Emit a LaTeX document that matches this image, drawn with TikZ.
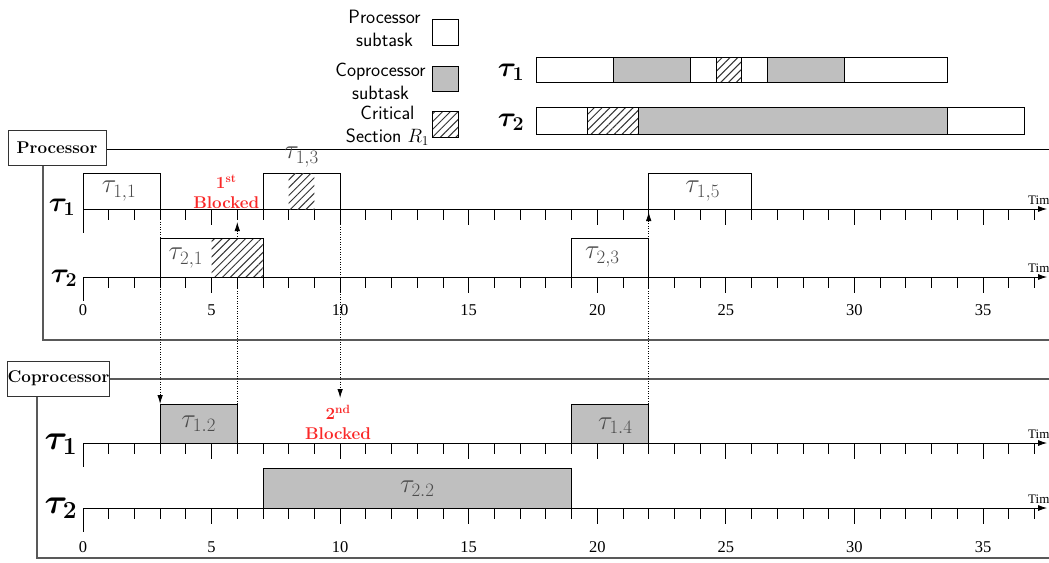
\RequirePackage{fix-cm}
\documentclass[tikz,border=0pt]{standalone}
\usepackage{amsmath,bm}
\usepackage{fontspec}
\newfontfamily\timesfont{Liberation Serif}
\usetikzlibrary{patterns.meta,arrows.meta}
\definecolor{blkred}{RGB}{250,40,40}
\tikzset{
  framebox/.style={draw=black!80, line width=0.8pt, fill=white, inner sep=0pt, font=\fontsize{17}{18}\selectfont\bfseries},
  frameline/.style={draw=black!65, line width=1.2pt},
  procbox/.style={draw=black, line width=0.8pt, fill=white},
  coprbox/.style={draw=black, line width=0.8pt, fill=black!25},
  critfill/.style={pattern={Lines[angle=45,distance=5.5pt,line width=1pt]}, pattern color=black!80},
  critbox/.style={draw=black, line width=0.8pt, critfill},
  tasklbl/.style={text=black!70, font=\fontsize{27}{30}\selectfont, inner sep=0pt},
  rowlbl/.style={font=\fontsize{28}{30}\selectfont, inner sep=0pt},
  rowlblbig/.style={font=\fontsize{35}{38}\selectfont, inner sep=0pt},
  blklbl/.style={text=blkred, font=\fontsize{17}{20}\selectfont\bfseries, align=center, inner sep=0pt},
  legtxt/.style={font=\fontsize{19.3}{23}\selectfont\sffamily, align=center, inner sep=0pt},
  numlbl/.style={font=\fontsize{16.5}{18}\timesfont, inner sep=0pt},
  timelbl/.style={font=\fontsize{13}{14}\timesfont, inner sep=0pt, anchor=base west},
  axisline/.style={line width=0.8pt, -{Latex[length=9pt,width=6pt]}},
  tickline/.style={line width=0.8pt},
  flow/.style={line width=0.8pt, dash pattern=on 1pt off 1.5pt, -{Latex[length=9pt,width=5.5pt]}},
}
\newcommand\timeaxis[1]{%
  \draw[axisline] (0,#1) -- (37.49,#1);
  \draw[tickline] (0,#1) -- ++(0,24);
  \foreach \t in {1,...,37} {\draw[tickline] (\t,#1) -- ++(0,11);}
  \foreach \t in {5,10,...,35} {\draw[tickline] (\t,#1) -- ++(0,16);}
  \node[timelbl] at (36.75,#1-5) {Time};
}
\begin{document}
\begin{tikzpicture}[x=1pt,y=-1pt]
\useasboundingbox (0,0) rectangle (1049,562);
\fill[white] (0,0) rectangle (1049,562);

% ---------- legend ----------
\node[legtxt] (lp) at (384.5,28) {Processor\\subtask};
\draw[procbox] (432,19) rectangle (458,45);
\node[legtxt] (lc) at (380.5,81) {Coprocessor\\subtask};
\draw[coprbox] (432,66) rectangle (458,91);
\node[legtxt] (lr) at (387.5,126) {Critical\\Section $R_1$};
\draw[critbox] (432,111) rectangle (458,137);

% ---------- overview bars ----------
\node[rowlbl] (b1) at (511,72) {$\bm{\tau_1}$};
\node[rowlbl] (b2) at (511,122) {$\bm{\tau_2}$};
\begin{scope}[x=25.714pt, xshift=536pt]
  \draw[procbox] (0,57) rectangle (3,82);
  \draw[coprbox] (3,57) rectangle (6,82);
  \draw[procbox] (6,57) rectangle (7,82);
  \draw[critbox] (7,57) rectangle (8,82);
  \draw[procbox] (8,57) rectangle (9,82);
  \draw[coprbox] (9,57) rectangle (12,82);
  \draw[procbox] (12,57) rectangle (16,82);
  \draw[procbox] (0,107) rectangle (2,134);
  \draw[critbox] (2,107) rectangle (4,134);
  \draw[coprbox] (4,107) rectangle (16,134);
  \draw[procbox] (16,107) rectangle (19,134);
\end{scope}

% ---------- frames ----------
\draw[draw=black, line width=0.9pt] (106,149) -- (1049,149);
\draw[frameline] (43,165) -- (43,340) -- (1049,340);
\node[framebox, minimum width=98pt, minimum height=35pt] (procf) at (57,147.5) {Processor};
\draw[frameline] (109,379) -- (1049,379);
\draw[frameline] (37,396) -- (37,558) -- (1049,558);
\node[framebox, minimum width=101pt, minimum height=35pt] (coprf) at (58.5,378.5) {Coprocessor};

% ---------- row labels ----------
\node[rowlbl] (rp1) at (62,207) {$\bm{\tau_1}$};
\node[rowlbl] (rp2) at (64,278) {$\bm{\tau_2}$};
\node[rowlblbig] (rc1) at (61,444) {$\bm{\tau_1}$};
\node[rowlblbig] (rc2) at (61,508) {$\bm{\tau_2}$};

\begin{scope}[x=25.714pt, xshift=83pt]
  % axes
  \timeaxis{209}
  \timeaxis{277}
  \timeaxis{443}
  \timeaxis{508}
  \foreach \t in {0,5,...,35} {
    \node[numlbl] at (\t,310) {\t};
    \node[numlbl] at (\t,547) {\t};
  }
  % arrow coordinates
  \coordinate (a1s) at (3,209);  \coordinate (a1e) at (3,404);
  \coordinate (a2s) at (6,404);  \coordinate (a2e) at (6,222);
  \coordinate (a3s) at (10,209); \coordinate (a3e) at (10,398);
  \coordinate (a4s) at (22,404); \coordinate (a4e) at (22,212);
  \draw[flow] (a1s) -- (a1e);
  \draw[flow] (a2s) -- (a2e);
  \draw[flow] (a3s) -- (a3e);
  \draw[flow] (a4s) -- (a4e);

  % processor tau1
  \draw[procbox] (0,173) rectangle (3,209);
  \node[tasklbl] (t11) at (1.4,191) {$\tau_{1,1}$};
  \draw[procbox] (7,173) rectangle (10,209);
  \fill[critfill] (8,173) rectangle (9,209);
  \node[tasklbl] (t13) at (8.5,157) {$\tau_{1,3}$};
  \draw[procbox] (22,173) rectangle (26,209);
  \node[tasklbl] (t15) at (24.1,191) {$\tau_{1,5}$};
  % processor tau2
  \draw[procbox] (3,238) rectangle (7,277);
  \fill[critfill] (5,238) rectangle (7,277);
  \draw[line width=0.8pt] (3,238) rectangle (7,277);
  \node[tasklbl] (t21) at (4.0,258) {$\tau_{2,1}$};
  \draw[procbox] (19,238) rectangle (22,277);
  \node[tasklbl] (t23) at (20.2,257) {$\tau_{2,3}$};
  % coprocessor tau1
  \draw[coprbox] (3,404) rectangle (6,443);
  \node[tasklbl] (t12) at (4.5,424) {$\tau_{1.2}$};
  \draw[coprbox] (19,404) rectangle (22,443);
  \node[tasklbl] (t14) at (20.7,426) {$\tau_{1.4}$};
  % coprocessor tau2
  \draw[coprbox] (7,468) rectangle (19,508);
  \node[tasklbl] (t22) at (13,489) {$\tau_{2.2}$};

  % blocked labels
  \node[blklbl] (bl1) at (5.57,192) {1\textsuperscript{st}\\Blocked};
  \node[blklbl] (bl2) at (9.92,422) {2\textsuperscript{nd}\\Blocked};
\end{scope}
\end{tikzpicture}
\end{document}
